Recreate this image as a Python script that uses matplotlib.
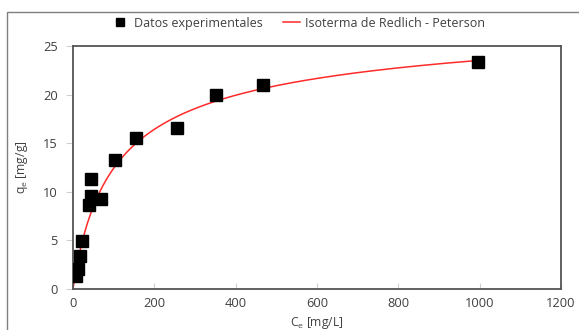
import matplotlib.pyplot as plt
from matplotlib.patches import Rectangle
import numpy as np

ce = [7, 12, 17, 22, 39, 44, 44, 69, 103, 155, 255, 352, 467, 996]
qe = [1.35, 2.05, 3.4, 4.9, 8.6, 9.6, 11.3, 9.3, 13.3, 15.5, 16.6, 20.0, 21.0, 23.3]

x_ticks = [0, 200, 400, 600, 800, 1000, 1200]
y_ticks = [0, 5, 10, 15, 20, 25]

# Redlich-Peterson fit: C/q = 1/K + (a/K) C^b, grid over b
C = np.array(ce, float)
Q = np.array(qe, float)
best = None
for b in np.linspace(0.5, 1.0, 501):
    A = np.vstack([np.ones_like(C), C ** b]).T
    coef, *_ = np.linalg.lstsq(A, C / Q, rcond=None)
    K = 1 / coef[0]
    a = coef[1] * K
    err = np.sum((K * C / (1 + a * C ** b) - Q) ** 2)
    if best is None or err < best[0]:
        best = (err, K, a, b)
_, K, a, b = best
cfit = np.linspace(0.5, max(ce), 400)
qfit = K * cfit / (1 + a * cfit ** b)

plt.rcParams['font.family'] = ['Open Sans', 'DejaVu Sans']

fig = plt.figure(figsize=(5.79, 3.30), dpi=100)
ax = fig.add_axes([0.126, 0.124, 0.843, 0.737])

fig.patches.append(Rectangle((7 / 579, -0.1), 1.2, (330 - 12) / 330 + 0.1,
                             transform=fig.transFigure, fill=False,
                             edgecolor='#7f7f7f', linewidth=1.0))

ax.plot(cfit, qfit, color='#ff2a2a', linewidth=1.1, zorder=2,
        label='Isoterma de Redlich - Peterson')
ax.plot(ce, qe, linestyle='none', marker='s', markersize=8.5, color='black',
        zorder=3, label='Datos experimentales')

ax.set_xlim(0, 1200)
ax.set_ylim(0, 25)
ax.set_xticks(x_ticks)
ax.set_yticks(y_ticks)
ax.tick_params(axis='x', direction='in', length=4, color='#d0d0d0',
               labelsize=9.3, labelcolor='#404040', pad=6)
ax.tick_params(axis='y', direction='out', length=5, color='#d0d0d0',
               labelsize=9.3, labelcolor='#404040', pad=6)
for s in ax.spines.values():
    s.set_color('#555555')
    s.set_linewidth(1.3)

ax.set_xlabel('C$_\\mathregular{e}$ [mg/L]', fontsize=8.7, color='#404040', labelpad=3)
ax.set_ylabel('q$_\\mathregular{e}$ [mg/g]', fontsize=8.7, color='#404040', labelpad=9)

h, l = ax.get_legend_handles_labels()
fig.legend(h[::-1], l[::-1], loc='center', bbox_to_anchor=(0.515, 0.93), ncol=2,
           frameon=False, fontsize=9, labelcolor='#404040', handlelength=1.4,
           handletextpad=0.4, columnspacing=1.6, markerscale=0.75)

plt.savefig('out.png', dpi=100)
